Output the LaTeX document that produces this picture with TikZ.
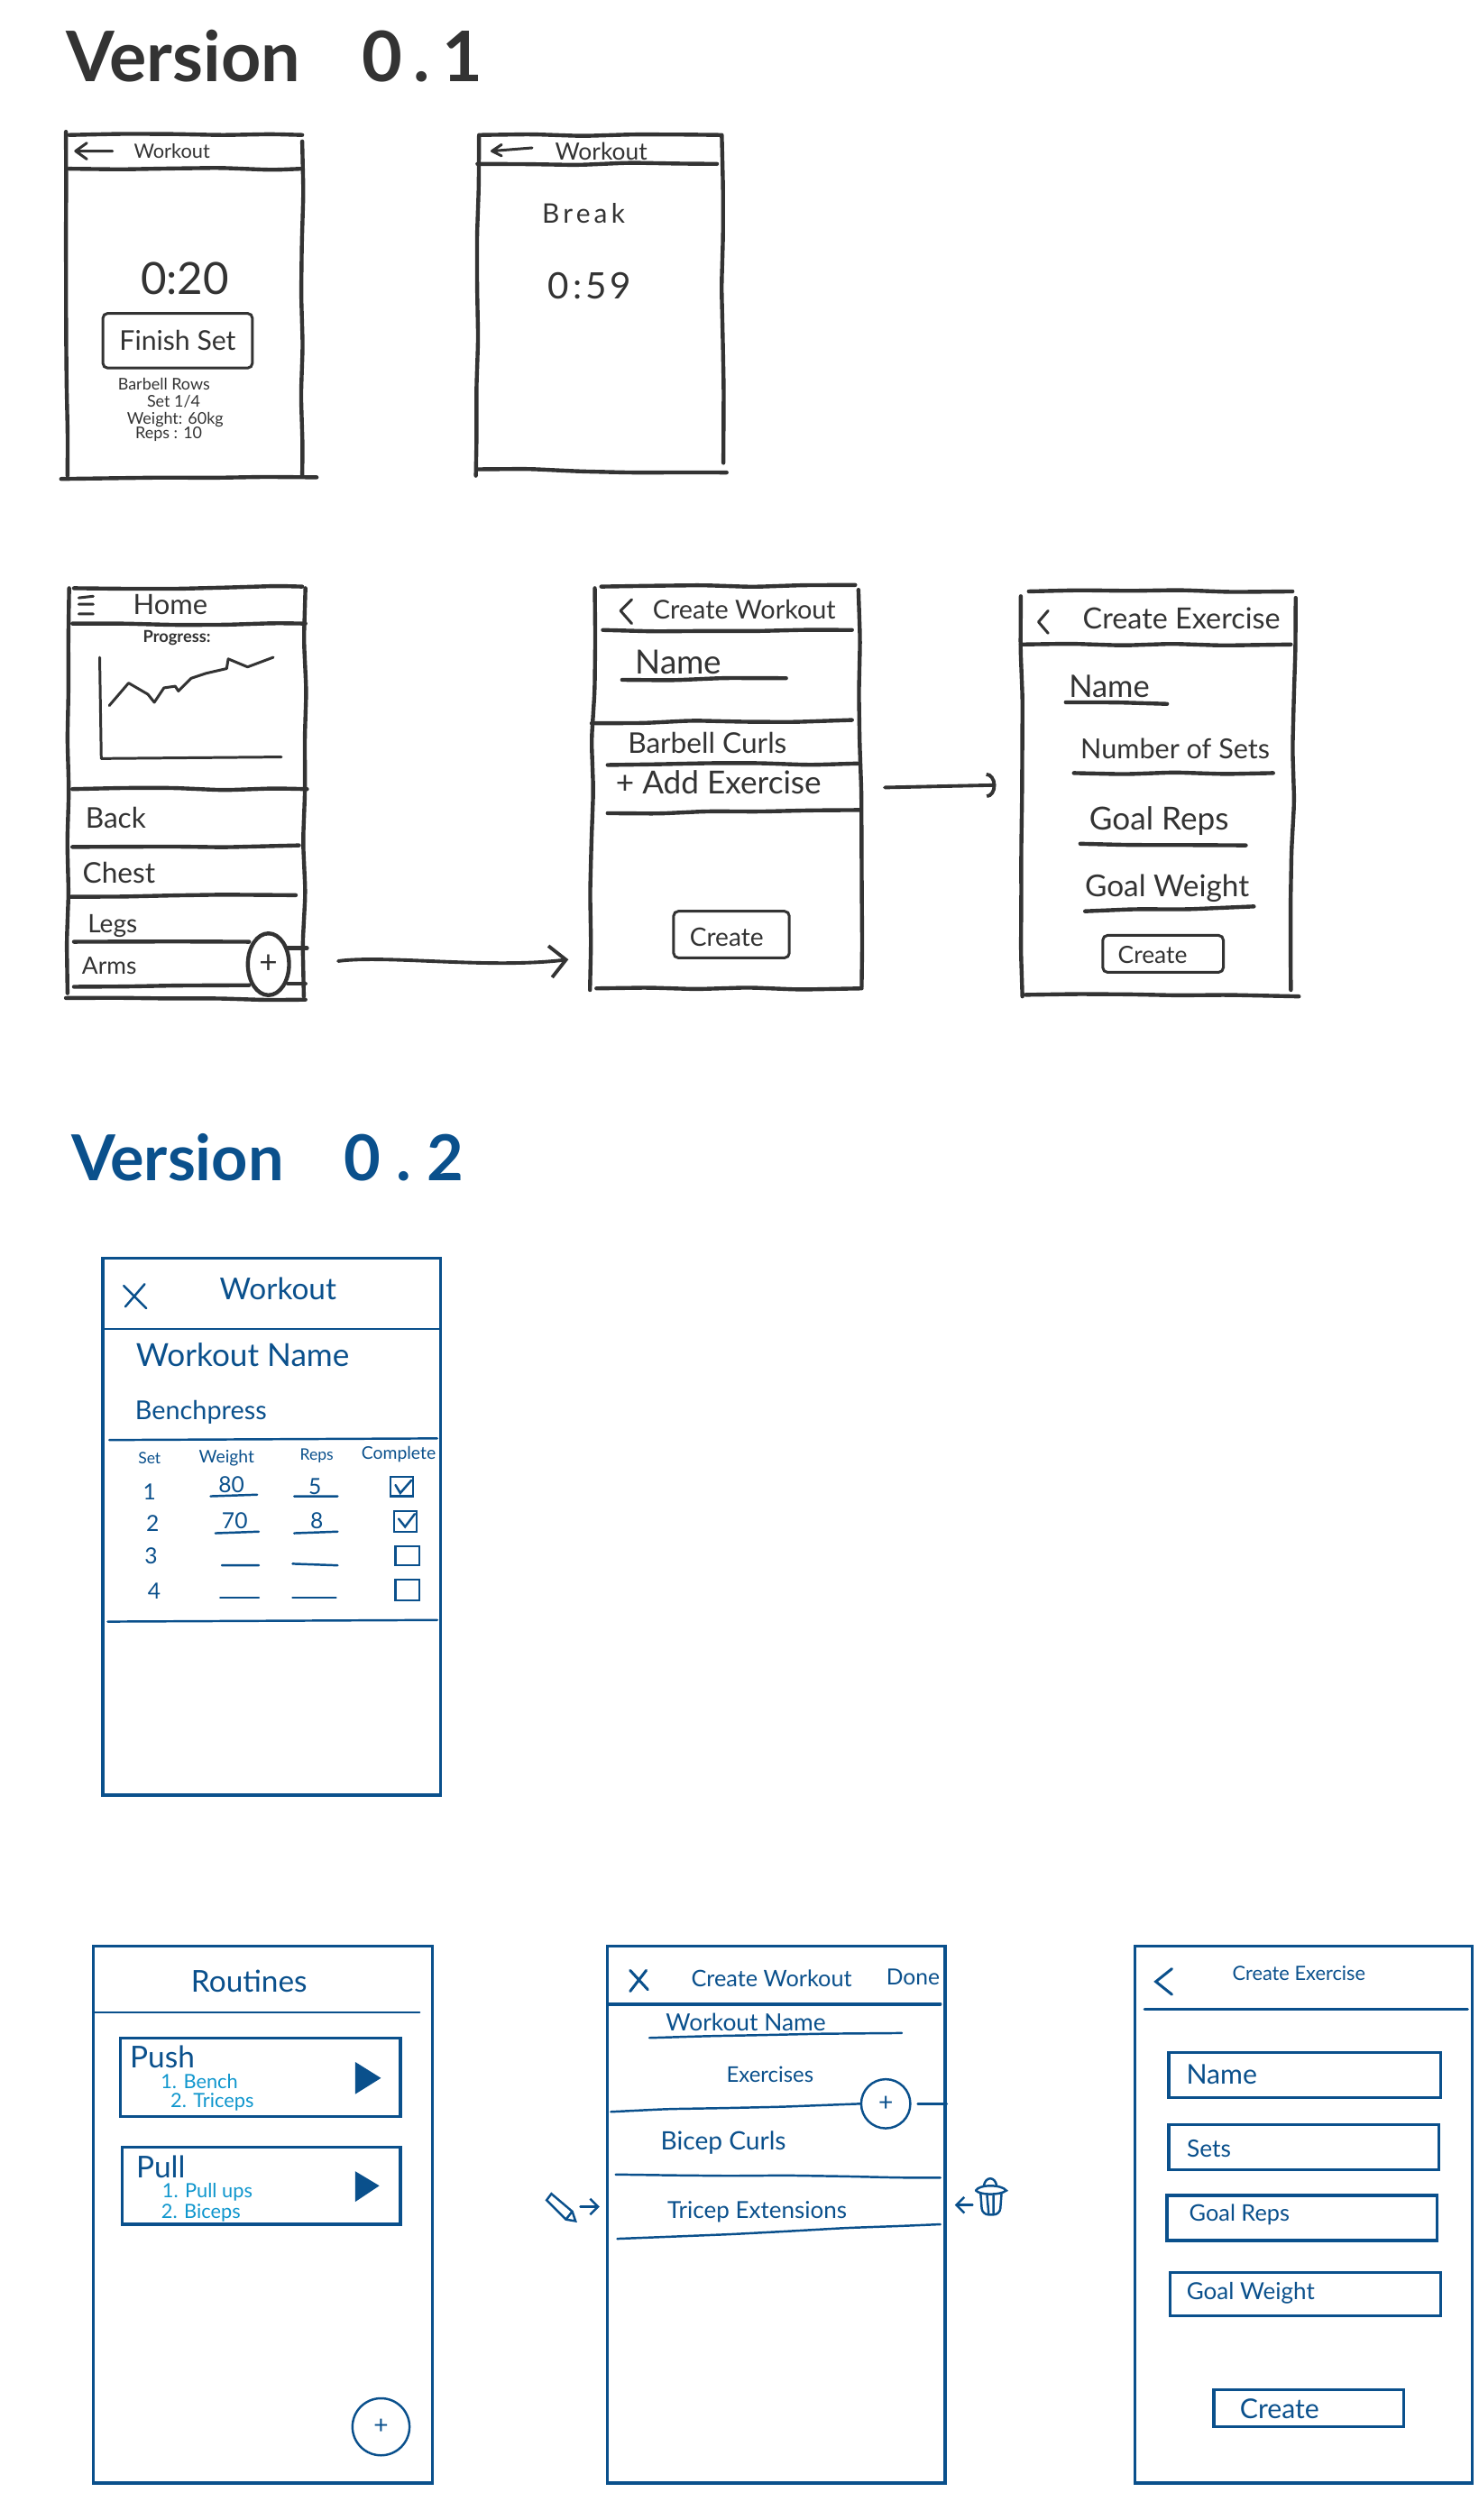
\documentclass[tikz,border=0pt]{standalone}
\usepackage{fontspec}
\setmainfont{Lato}
\definecolor{inkgray}{RGB}{51, 51, 51}
\definecolor{sketchblue}{RGB}{10, 80, 140}
\definecolor{listcyan}{RGB}{15, 150, 205}
\usetikzlibrary{shapes.geometric, arrows.meta, positioning, calc, fit, decorations.pathmorphing}
\begin{document}
\pgfmathsetseed{11}
\begin{tikzpicture}[
      x=0.17826mm, y=-0.17826mm,
      gtxt/.style={text=inkgray, inner sep=0pt, font=\fontsize{#1}{#1}\selectfont},
      btxt/.style={text=sketchblue, inner sep=0pt, font=\fontsize{#1}{#1}\selectfont},
      ctxt/.style={text=listcyan, inner sep=0pt, font=\fontsize{#1}{#1}\selectfont},
      screen/.style={inner sep=0pt},
      btnbox/.style={inner sep=0pt, draw=inkgray, line width=0.85pt, rounded corners=1.5pt},
      sk/.style={draw=inkgray, line width=1.25pt, line cap=round, rounded corners=3pt,
                 decorate, decoration={random steps, segment length=16pt, amplitude=0.45pt}},
      skplain/.style={draw=inkgray, line width=0.85pt, line cap=round, line join=round},
      frame/.style={inner sep=0pt, draw=sketchblue, line width=0.95pt},
      bl/.style={draw=sketchblue, line width=0.7pt, line cap=round},
      blwob/.style={bl, rounded corners=3pt,
                    decorate, decoration={random steps, segment length=18pt, amplitude=0.35pt}},
      flow/.style={draw=inkgray, line width=1.1pt, line cap=round},
      tick/.style={inner sep=0pt, draw=sketchblue, line width=0.6pt}
    ]
      \useasboundingbox (0,0) rectangle (920,1568);

      % Version 0.1 header
      \node[gtxt=22, anchor=west, font=\fontsize{22}{22}\bfseries\selectfont] (titleone) at (41,35) {Version\hspace{14pt} 0\,.\,1};

      % Workout running
      \node[screen, fit={(41,84) (188,296)}] (runset) {};
      \draw[sk] (41,82) -- (42,296);
      \draw[sk] (43,84) -- (188,84);
      \draw[sk] (188,88) -- (188,296);
      \draw[sk] (43,105) -- (188,105);
      \draw[sk] (38,298) -- (197,297);
      \draw[skplain] (70,94) -- (48,94) (54,89) -- (47,94) -- (54,99);
      \node[gtxt=6.2] (runhead) at (107,94) {Workout};
      \node[gtxt=14] (runtime) at (115,173) {0:20};
      \node[btnbox, fit={(64,195) (157,229)}] (finish) {};
      \node[gtxt=8.6] (finishtxt) at (finish.center) {Finish Set};
      \node[gtxt=5.1] (rowname) at (102,239) {Barbell Rows};
      \node[gtxt=5.1] (rowset) at (108,250) {Set 1/4};
      \node[gtxt=5.1] (rowweight) at (109,261) {Weight: 60kg};
      \node[gtxt=5.1] (rowreps) at (105,270) {Reps : 10};

      % Break
      \node[screen, fit={(296,84) (449,293)}] (breakscr) {};
      \draw[sk] (298,84) -- (296,296);
      \draw[sk] (299,84) -- (448,84);
      \draw[sk] (449,84) -- (450,288);
      \draw[sk] (297,102) -- (446,102);
      \draw[sk] (297,292) -- (452,294);
      \draw[skplain] (331,92) -- (306,94) (312,90) -- (306,94) -- (312,97);
      \node[gtxt=7.5] (breakhead) at (374,94) {Workout};
      \node[gtxt=8.5, font=\fontsize{8.5}{8.5}\selectfont\addfontfeature{LetterSpace=14}] (breaklbl) at (363,133) {Break};
      \node[gtxt=11.5, font=\fontsize{11.5}{11.5}\selectfont\addfontfeature{LetterSpace=10}] (breaktime) at (367,178) {0:59};

      % Home
      \node[screen, fit={(43,364) (190,620)}] (home) {};
      \draw[sk] (43,366) -- (42,618);
      \draw[sk] (46,366) -- (188,365);
      \draw[sk] (190,366) -- (189,620);
      \draw[sk] (45,388) -- (190,388);
      \draw[sk] (41,621) -- (190,622);
      \draw[sk] (45,491) -- (191,491);
      \draw[sk] (45,527) -- (186,526);
      \draw[sk] (44,558) -- (184,557);
      \draw[sk] (46,586) -- (155,586);
      \draw[sk] (46,614) -- (155,613);
      \draw[sk] (179,590) -- (191,590);
      \draw[sk] (179,612) -- (190,612);
      \node[draw=inkgray, line width=1.25pt, ellipse, inner sep=0pt, minimum width=13pt, minimum height=19.5pt,
            gtxt=10] (plusone) at (167,600) {+};
      \draw[skplain] (49,372) -- (58,371) (49,376) -- (58,376) (49,382) -- (58,382);
      \node[gtxt=8.8] (hometitle) at (106,376) {Home};
      \node[gtxt=5.2, font=\fontsize{5.2}{5.2}\bfseries\selectfont] (progress) at (110,397) {Progress:};
      \draw[skplain] (62,409) -- (63,472) -- (175,471);
      \draw[skplain] (68,439) -- (80,425) -- (92,432) -- (96,437) -- (102,428) -- (109,427)
        -- (111,430) -- (119,422) -- (128,419) -- (141,416) -- (142,410) -- (154,415) -- (170,409);
      \node[gtxt=9] (back) at (72,509) {Back};
      \node[gtxt=9] (chest) at (74,543) {Chest};
      \node[gtxt=8] (legs) at (70,576) {Legs};
      \node[gtxt=7.5] (arms) at (68,601) {Arms};

      % Create workout
      \node[screen, fit={(368,365) (535,613)}] (wkcreate) {};
      \draw[sk] (370,366) -- (367,616);
      \draw[sk] (374,365) -- (532,364);
      \draw[sk] (534,367) -- (536,614);
      \draw[sk] (371,615) -- (536,615);
      \draw[sk] (375,392) -- (530,392);
      \draw[sk] (387,423) -- (489,422);
      \draw[sk] (368,450) -- (530,448);
      \draw[sk] (378,476) -- (535,475);
      \draw[sk] (378,506) -- (535,504);
      \draw[skplain] (393,373) -- (386,380) -- (393,388);
      \node[gtxt=8.2] (wkhead) at (463,379) {Create Workout};
      \node[gtxt=10.5] (wkname) at (422,412) {Name};
      \node[gtxt=9] (wkcurl) at (440,462) {Barbell Curls};
      \node[gtxt=10] (wkadd) at (447,487) {+ Add Exercise};
      \node[btnbox, fit={(419,567) (491,596)}] (wkbtn) {};
      \node[gtxt=8] (wkbtntxt) at (452,583) {Create};

      % Create exercise
      \node[screen, fit={(635,369) (806,620)}] (excreate) {};
      \draw[sk] (635,371) -- (636,620);
      \draw[sk] (640,368) -- (804,368);
      \draw[sk] (806,372) -- (803,616);
      \draw[sk] (638,619) -- (808,620);
      \draw[sk] (635,401) -- (803,401);
      \draw[skplain] (652,380) -- (646,387) -- (652,394);
      \node[gtxt=9.2] (exhead) at (735,385) {Create Exercise};
      \node[gtxt=9.8] (exname) at (690,427) {Name};
      \draw[sk] (663,437) -- (726,438);
      \node[gtxt=8.7] (exsets) at (731,466) {Number of Sets};
      \draw[sk] (668,481) -- (792,481);
      \node[gtxt=10] (exreps) at (721,511) {Goal Reps};
      \draw[sk] (672,525) -- (775,526);
      \node[gtxt=9.5] (exweight) at (726,553) {Goal Weight};
      \draw[sk] (675,567) -- (780,564);
      \node[btnbox, fit={(686,582) (761,605)}] (exbtn) {};
      \node[gtxt=7.5] (exbtntxt) at (717,594) {Create};

      % Arrows between screens
      \draw[flow, -{Straight Barb[length=5pt,width=10pt]}] ($(home.east |- plusone)+(20,-2)$)
        .. controls +(30,-4) and +(-50,6) .. ($(wkcreate.west |- plusone)+(-14,-3)$);
      \draw[flow, -{Arc Barb[length=3pt,width=8pt]}] ($(wkcreate.east)+(15,1)$) -- ($(excreate.west)+(-15,-6)$);

      % Version 0.2 header
      \node[btxt=20, anchor=west, font=\fontsize{20}{20}\bfseries\selectfont] (titletwo) at (44,720) {Version\hspace{14pt} 0\hspace{5pt}.\hspace{5pt}2};

      % Active workout
      \node[frame, fit={(64,783) (274,1117)}] (active) {};
      \draw[bl] (64,827) -- (274,827);
      \draw[bl] (77,800) -- (91,814) (90,799) -- (78,813);
      \node[btxt=9.5] (activehead) at (173,802) {Workout};
      \node[btxt=10] (activename) at (151,843) {Workout Name};
      \node[btxt=8.2] (bench) at (125,879) {Benchpress};
      \draw[bl] (68,896) -- (272,895);
      \node[btxt=5] (colset) at (93,907) {Set};
      \node[btxt=5.5] (colweight) at (141,907) {Weight};
      \node[btxt=5] (colreps) at (197,906) {Reps};
      \node[btxt=5.5] (coldone) at (248,905) {Complete};
      \node[btxt=7] (setone) at (93,928) {1};
      \node[btxt=7] (settwo) at (95,948) {2};
      \node[btxt=7] (setthree) at (94,968) {3};
      \node[btxt=7] (setfour) at (96,990) {4};
      \node[btxt=7] (wone) at (144,924) {80};
      \node[btxt=7] (wtwo) at (146,946) {70};
      \node[btxt=7] (rone) at (196,925) {5};
      \node[btxt=7] (rtwo) at (197,946) {8};
      \draw[bl] (131,931) -- (160,930) (183,931) -- (210,931);
      \draw[bl] (134,954) -- (161,953) (183,954) -- (210,953);
      \draw[bl] (138,974) -- (161,974) (182,973) -- (210,974);
      \draw[bl] (137,994) -- (161,994) (182,994) -- (209,994);
      \node[tick, fit={(243,919) (257,931)}] (boxone) {};
      \node[tick, fit={(245,940) (259,953)}] (boxtwo) {};
      \node[tick, fit={(246,962) (261,974)}] (boxthree) {};
      \node[tick, fit={(246,983) (261,996)}] (boxfour) {};
      \draw[bl] (246,924) -- (249,929) -- (256,921) (248,945) -- (252,950) -- (258,942);
      \draw[bl] (67,1009) -- (272,1008);

      % Routines
      \node[frame, fit={(58,1211) (269,1545)}] (routines) {};
      \draw[bl] (58,1252) -- (261,1252);
      \node[btxt=9.5] (routinehead) at (155,1233) {Routines};
      \node[frame, fit={(75,1268) (249,1317)}] (push) {};
      \node[btxt=9.5] (pushlbl) at (101,1280) {Push};
      \node[ctxt=6.2] (pushone) at (124,1295) {1. Bench};
      \node[ctxt=6.2] (pushtwo) at (132,1308) {2. Triceps};
      \fill[sketchblue, line join=round] (221,1283) -- (237,1293) -- (221,1303) -- cycle;
      \node[frame, fit={(76,1336) (249,1384)}] (pull) {};
      \node[btxt=9.5] (pulllbl) at (100,1348) {Pull};
      \node[ctxt=6.2] (pullone) at (129,1364) {1. Pull ups};
      \node[ctxt=6.2] (pulltwo) at (125,1377) {2. Biceps};
      \fill[sketchblue, line join=round] (221,1351) -- (236,1360) -- (221,1370) -- cycle;
      \node[draw=sketchblue, line width=0.7pt, circle, inner sep=0pt, minimum size=18pt, btxt=8] (plustwo) at (237,1510) {+};

      % Create workout, second version
      \node[frame, fit={(378,1211) (588,1545)}] (wktwo) {};
      \draw[bl, line width=0.95pt] (378,1247) -- (585,1247);
      \draw[bl, line width=0.85pt] (392,1226) -- (403,1238) (402,1226) -- (392,1239);
      \node[btxt=7.2] (wktwohead) at (480,1231) {Create Workout};
      \node[btxt=7] (wktwodone) at (568,1230) {Done};
      \node[btxt=7.5] (wktwoname) at (464,1258) {Workout Name};
      \draw[blwob] (404,1268) -- (561,1265);
      \node[btxt=6.8] (wktwoex) at (479,1291) {Exercises};
      \node[draw=sketchblue, line width=0.7pt, circle, inner sep=0pt, minimum size=15.5pt, btxt=8] (plusthree) at (551,1309) {+};
      \draw[blwob] (380,1314) -- (plusthree.west);
      \draw[bl] ([xshift=2pt]plusthree.east) -- (wktwo.east |- plusthree);
      \node[btxt=8] (wktwocurl) at (450,1333) {Bicep Curls};
      \draw[blwob] (383,1353) -- (585,1355);
      \node[btxt=7.4] (wktwotri) at (471,1376) {Tricep Extensions};
      \draw[blwob] (384,1393) -- (585,1384);

      % Swipe hints
      \draw[bl] (343,1365) -- (340,1369) -- (352,1381) -- (358,1382) -- (356,1376) -- cycle (352,1381) -- (356,1376);
      \coordinate (penfrom) at (361,1373);
      \coordinate (pento) at (373,1373);
      \draw[bl, -{Straight Barb[length=2.5pt,width=5pt]}] (penfrom) -- (pento);
      \coordinate (binfrom) at (605,1372);
      \coordinate (binto) at (594,1372);
      \draw[bl, -{Straight Barb[length=2.5pt,width=5pt]}] (binfrom) -- (binto);
      \draw[bl] (607,1363) .. controls (609,1359) and (623,1359) .. (626,1363) .. controls (622,1366) and (610,1366) .. (607,1363);
      \draw[bl] (612,1360) .. controls (613,1354) and (619,1354) .. (620,1360);
      \draw[bl, rounded corners=2pt] (610,1365) -- (611,1378) -- (622,1378) -- (623,1365);
      \draw[bl] (614,1366) -- (615,1377) (618,1366) -- (618,1377);

      % Create exercise, second version
      \node[frame, fit={(706,1211) (916,1545)}] (extwo) {};
      \draw[bl, line width=0.85pt] (729,1225) -- (719,1233) -- (729,1241);
      \node[btxt=6.2] (extwohead) at (808,1228) {Create Exercise};
      \draw[bl, line width=0.85pt] (712,1250) -- (913,1250);
      \node[frame, fit={(727,1277) (896,1305)}] (inname) {};
      \node[btxt=8.6] (innametxt) at (760,1291) {Name};
      \node[frame, fit={(727,1322) (895,1350)}] (insets) {};
      \node[btxt=7.5] (insetstxt) at (752,1337) {Sets};
      \node[frame, fit={(726,1366) (894,1394)}] (inreps) {};
      \node[btxt=7.2] (inrepstxt) at (771,1378) {Goal Reps};
      \node[frame, fit={(728,1414) (896,1441)}] (inweight) {};
      \node[btxt=7.4] (inweighttxt) at (778,1427) {Goal Weight};
      \node[frame, fit={(755,1487) (873,1510)}] (inbtn) {};
      \node[btxt=8.6] (inbtntxt) at (796,1499) {Create};
    \end{tikzpicture}
\end{document}
